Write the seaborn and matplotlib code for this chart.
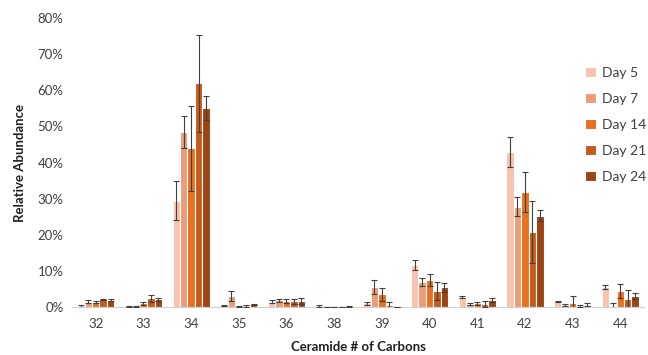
import matplotlib
matplotlib.use("Agg")
import matplotlib.pyplot as plt
import seaborn as sns
import pandas as pd
import numpy as np
from matplotlib.ticker import FuncFormatter

categories = ["32", "33", "34", "35", "36", "38", "39", "40", "41", "42", "43", "44"]
days = ["Day 5", "Day 7", "Day 14", "Day 21", "Day 24"]

day5 = [0.2, 0.1, 29.5, 0.4, 1.5, 0.2, 1.0, 11.6, 2.85, 43.0, 1.5, 5.6]
day7 = [1.5, 0.2, 48.5, 3.1, 1.9, 0.05, 5.6, 7.0, 0.75, 27.8, 0.5, 0.4]
day14 = [1.5, 1.0, 44.0, 0.2, 1.65, 0.05, 3.5, 7.5, 1.0, 31.9, 1.2, 4.4]
day21 = [2.1, 2.4, 62.0, 0.4, 1.6, 0.05, 0.5, 4.5, 0.9, 20.8, 0.4, 2.2]
day24 = [1.9, 2.1, 55.2, 0.75, 1.65, 0.15, 0.0, 5.5, 1.9, 25.3, 0.7, 3.0]

err5 = [0.4, 0.1, 5.3, 0.2, 0.5, 0.3, 0.4, 1.4, 0.35, 4.2, 0.2, 0.5]
err7 = [0.4, 0.1, 4.5, 1.4, 0.4, 0.05, 1.9, 1.1, 0.3, 2.7, 0.3, 0.8]
err14 = [0.3, 0.5, 11.8, 0.1, 0.45, 0.05, 1.9, 1.6, 0.4, 5.5, 1.8, 1.9]
err21 = [0.2, 0.9, 13.4, 0.3, 0.7, 0.05, 1.0, 2.5, 0.8, 8.6, 0.3, 2.5]
err24 = [0.2, 0.5, 3.3, 0.2, 0.75, 0.1, 0.0, 1.2, 0.5, 1.6, 0.3, 0.8]

colors = ["#F7C2AE", "#EE9B78", "#E8701F", "#C75A1B", "#9D4414"]

values = [day5, day7, day14, day21, day24]
errors = [err5, err7, err14, err21, err24]

rows = []
for d, vals, errs in zip(days, values, errors):
    for c, v, e in zip(categories, vals, errs):
        rows.append({"Carbons": c, "Day": d, "Value": v / 100.0, "Err": e / 100.0})
df = pd.DataFrame(rows)

sns.set_style("white")
plt.rcParams["font.family"] = ["Lato", "DejaVu Sans"]

fig = plt.figure(figsize=(6.48, 3.55), dpi=100)
ax = fig.add_axes([0.111, 0.135, 0.883, 0.814])

sns.barplot(data=df, x="Carbons", y="Value", hue="Day", order=categories,
            hue_order=days, palette=colors, saturation=1, width=0.78, errorbar=None,
            edgecolor="white", linewidth=0.8, ax=ax)

# error bars from bar positions
for i, d in enumerate(days):
    cont = ax.containers[i]
    sub = df[df["Day"] == d].set_index("Carbons").loc[categories]
    xs = [p.get_x() + p.get_width() / 2 for p in cont.patches]
    ys = [p.get_height() for p in cont.patches]
    ax.errorbar(xs, ys, yerr=sub["Err"].values, fmt="none", ecolor="#404040",
                elinewidth=0.8, capsize=2.5, capthick=0.8, zorder=5)

ax.set_xlim(-0.5, 11.5)
ax.set_ylim(0, 0.8)
ax.set_yticks(np.arange(0, 0.81, 0.1))
ax.yaxis.set_major_formatter(FuncFormatter(lambda v, p: f"{v*100:.0f}%"))
ax.tick_params(axis="both", length=0, labelsize=9.5, colors="#404040", pad=6)
ax.tick_params(axis="x", pad=8)

for s in ["top", "right", "left"]:
    ax.spines[s].set_visible(False)
ax.spines["bottom"].set_color("#D0D0D0")
ax.spines["bottom"].set_linewidth(0.8)

ax.set_xlabel("Ceramide # of Carbons", fontsize=9.5, fontweight="bold", color="#202020", labelpad=8)
ax.set_ylabel("Relative Abundance", fontsize=9.5, fontweight="bold", color="#202020", labelpad=8)

leg = ax.legend(loc="upper right", bbox_to_anchor=(1.025, 0.875), frameon=False,
                fontsize=10, handlelength=0.8, handleheight=0.8,
                labelspacing=1.0, handletextpad=0.4)
for t in leg.get_texts():
    t.set_color("#404040")

fig.savefig("out.png", dpi=100)
